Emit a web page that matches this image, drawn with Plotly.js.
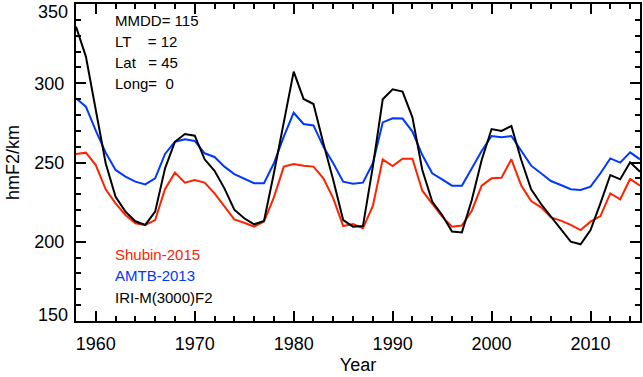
<!DOCTYPE html>
<html>
<head>
<meta charset="utf-8">
<script src="https://cdn.plot.ly/plotly-3.0.1.min.js"></script>
<style>
  html, body { margin: 0; padding: 0; background: #fff; }
  #chart { width: 643px; height: 377px; }
</style>
</head>
<body>
<div id="chart"></div>
<script>
// years 1958..2015, one value per year
var years = [];
for (var yr = 1958; yr <= 2015; yr++) years.push(yr);

var shubin = [255.4, 256.2, 248.4, 233.1, 224.2, 216.9, 211.6, 210.6, 213.7, 233.3,
    243.6, 237.3, 239.0, 237.3, 230.5, 222.1, 214.1, 212.0, 209.5, 212.7,
    228.0, 247.4, 249.1, 248.0, 247.4, 240.0, 227.4, 209.9, 211.2, 208.5,
    222.6, 252.0, 247.8, 252.4, 252.4, 232.2, 223.8, 215.8, 209.5, 210.2,
    219.6, 235.4, 240.0, 240.4, 252.0, 235.4, 225.7, 221.7, 215.4, 213.3,
    210.6, 207.4, 212.7, 216.2, 230.5, 226.8, 239.6, 235.4];

var amtb = [290.5, 285.2, 270.1, 256.2, 245.3, 241.1, 237.9, 236.2, 240.0, 255.4,
    263.1, 264.6, 263.6, 255.8, 253.5, 247.4, 242.7, 239.6, 236.9, 236.9,
    249.5, 266.3, 281.4, 274.3, 273.4, 260.0, 249.5, 237.9, 236.6, 237.3,
    249.5, 275.3, 277.9, 277.7, 269.5, 254.7, 243.2, 239.4, 235.4, 235.4,
    246.3, 257.3, 266.7, 265.9, 266.7, 257.5, 248.0, 243.2, 238.3, 235.8,
    233.1, 232.7, 234.8, 243.2, 252.6, 249.9, 256.4, 252.0];

var iri = [335.7, 316.8, 283.1, 249.5, 228.4, 219.0, 212.9, 210.6, 219.0, 246.3,
    263.1, 268.0, 266.9, 252.0, 244.8, 233.7, 220.2, 214.8, 211.0, 213.1,
    243.2, 274.7, 307.3, 290.1, 286.9, 262.1, 239.0, 213.7, 209.5, 209.9,
    247.4, 289.9, 296.2, 294.7, 278.5, 245.3, 225.3, 216.9, 206.4, 205.9,
    226.3, 251.6, 271.1, 269.9, 273.0, 251.6, 233.1, 223.8, 215.8, 207.4,
    200.1, 198.4, 207.4, 224.2, 242.1, 239.4, 250.1, 244.2];

var yTickVals = [150, 200, 250, 300, 350];
var yTickText = ['', '200', '250', '300', ''];
var infoLines = ['MMDD= 115', 'LT    = 12', 'Lat   = 45', 'Long=  0'];
var legendNames = ['Shubin-2015', 'AMTB-2013', 'IRI-M(3000)F2'];
var legendColors = ['#ff2200', '#0038ff', '#000000'];

var data = [
    {x: years, y: shubin, type: 'scatter', mode: 'lines', name: legendNames[0],
     line: {color: legendColors[0], width: 2}},
    {x: years, y: amtb, type: 'scatter', mode: 'lines', name: legendNames[1],
     line: {color: legendColors[1], width: 2}},
    {x: years, y: iri, type: 'scatter', mode: 'lines', name: legendNames[2],
     line: {color: legendColors[2], width: 2}}
];

var font = {family: 'Liberation Sans, Arial, sans-serif', color: '#000'};

var annotations = [];
// text block top-left
infoLines.forEach(function(t, i) {
    annotations.push({xref: 'paper', yref: 'paper', x: 0.066, y: 1 - (16 + i * 21.2) / 317,
        xanchor: 'left', yanchor: 'middle', showarrow: false, text: t,
        font: {family: font.family, size: 15, color: '#000'}});
});
// hand-made legend
legendNames.forEach(function(t, i) {
    annotations.push({xref: 'paper', yref: 'paper', x: 0.066, y: 1 - (250 + i * 21.5) / 317,
        xanchor: 'left', yanchor: 'middle', showarrow: false, text: t,
        font: {family: font.family, size: 15, color: legendColors[i]}});
});
// end labels of y axis, nudged inward like the original
annotations.push({xref: 'paper', yref: 'y', x: 0, y: 350, xanchor: 'right', yanchor: 'middle',
    xshift: -6, yshift: -8, showarrow: false, text: '350', font: {family: font.family, size: 18, color: '#000'}});
annotations.push({xref: 'paper', yref: 'y', x: 0, y: 150, xanchor: 'right', yanchor: 'middle',
    xshift: -6, yshift: 6, showarrow: false, text: '150', font: {family: font.family, size: 18, color: '#000'}});

var layout = {
    width: 643,
    height: 377,
    margin: {l: 76, r: 3, t: 4, b: 56},
    paper_bgcolor: '#fff',
    plot_bgcolor: '#fff',
    showlegend: false,
    font: {family: font.family, size: 18, color: '#000'},
    xaxis: {
        range: [1958, 2015],
        tickvals: [1960, 1970, 1980, 1990, 2000, 2010],
        ticks: 'inside',
        ticklen: 10,
        tickwidth: 2,
        tickcolor: '#000',
        ticklabelstandoff: 5,
        showgrid: false,
        zeroline: false,
        showline: true,
        linecolor: '#000',
        linewidth: 2,
        mirror: 'allticks',
        minor: {dtick: 2, ticks: 'inside', ticklen: 5, tickwidth: 2, tickcolor: '#000', showgrid: false},
        title: {text: 'Year', font: {size: 18}, standoff: 6}
    },
    yaxis: {
        range: [150, 350],
        tickvals: yTickVals,
        ticktext: yTickText,
        ticks: 'inside',
        ticklen: 10,
        tickwidth: 2,
        tickcolor: '#000',
        ticklabelstandoff: 6,
        showgrid: false,
        zeroline: false,
        showline: true,
        linecolor: '#000',
        linewidth: 2,
        mirror: 'allticks',
        minor: {dtick: 10, ticks: 'inside', ticklen: 5, tickwidth: 2, tickcolor: '#000', showgrid: false},
        title: {text: 'hmF2/km', font: {size: 18}, standoff: 10}
    },
    annotations: annotations
};

Plotly.newPlot('chart', data, layout, {displayModeBar: false, staticPlot: true});
</script>
</body>
</html>
